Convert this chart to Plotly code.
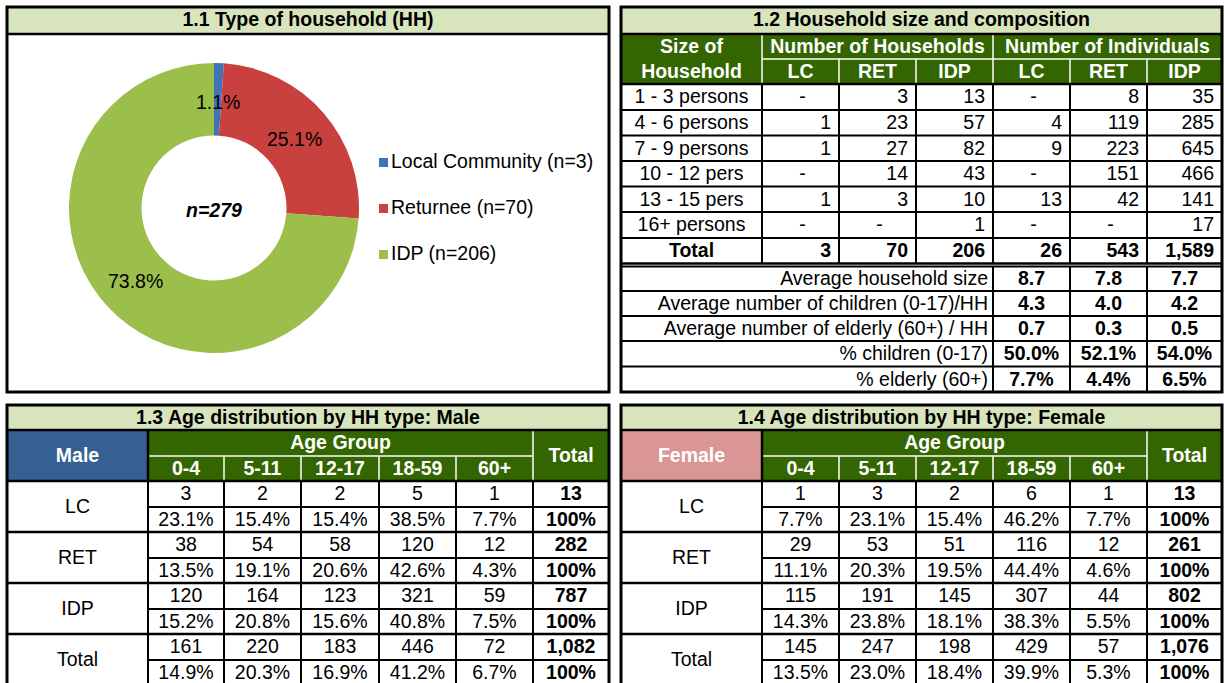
import math
import plotly.graph_objects as go

FONT = "Liberation Sans, Arial, Helvetica, sans-serif"
W, H = 1224, 683
FS = 19.5
DY = 1.5  # small vertical nudge for text baseline

# ---------------- data ----------------
hh_types = ["Local Community", "Returnee", "IDP"]
hh_counts = [3, 70, 206]
hh_colors = ["#3e74b8", "#c9413f", "#9cbf4c"]

size_groups = ["1 - 3 persons", "4 - 6 persons", "7 - 9 persons",
               "10 - 12 pers", "13 - 15 pers", "16+ persons"]
hh_lc = [0, 1, 1, 0, 1, 0]
hh_ret = [3, 23, 27, 14, 3, 0]
hh_idp = [13, 57, 82, 43, 10, 1]
ind_lc = [0, 4, 9, 0, 13, 0]
ind_ret = [8, 119, 223, 151, 42, 0]
ind_idp = [35, 285, 645, 466, 141, 17]

summary_labels = ["Average household size",
                  "Average number of children (0-17)/HH",
                  "Average number of elderly (60+) / HH",
                  "% children (0-17)",
                  "% elderly (60+)"]
avg_size = [8.7, 7.8, 7.7]
avg_children = [4.3, 4.0, 4.2]
avg_elderly = [0.7, 0.3, 0.5]
pct_children = [50.0, 52.1, 54.0]
pct_elderly = [7.7, 4.4, 6.5]

age_groups = ["0-4", "5-11", "12-17", "18-59", "60+"]
hh_codes = ["LC", "RET", "IDP"]
male_lc = [3, 2, 2, 5, 1]
male_ret = [38, 54, 58, 120, 12]
male_idp = [120, 164, 123, 321, 59]
female_lc = [1, 3, 2, 6, 1]
female_ret = [29, 53, 51, 116, 12]
female_idp = [115, 191, 145, 307, 44]

# ---------------- layout constants ----------------
TITLE_BG = "#d8e4bc"
HDR_GREEN = "#336600"
MALE_BG = "#376092"
FEMALE_BG = "#da9694"

shapes = []
texts = {}
annotations = []


def rect(x0, y0, x1, y1, fill, layer="below"):
    shapes.append(dict(type="rect", xref="x", yref="y", x0=x0, y0=y0, x1=x1, y1=y1,
                       fillcolor=fill, line=dict(width=0), layer=layer))


def frame(x0, y0, x1, y1, lw=3, color="black"):
    shapes.append(dict(type="rect", xref="x", yref="y", x0=x0, y0=y0, x1=x1, y1=y1,
                       fillcolor="rgba(0,0,0,0)", line=dict(color=color, width=lw), layer="above"))


def line(x0, y0, x1, y1, color="black", lw=2):
    shapes.append(dict(type="line", xref="x", yref="y", x0=x0, y0=y0, x1=x1, y1=y1,
                       line=dict(color=color, width=lw), layer="above"))


def txt(x, y, s, color="black", bold=False, italic=False, align="center", size=FS):
    if italic:
        s = f"<i>{s}</i>"
    if bold:
        s = f"<b>{s}</b>"
    key = (color, align, size)
    d = texts.setdefault(key, dict(x=[], y=[], t=[]))
    d["x"].append(x)
    d["y"].append(y + DY)
    d["t"].append(s)


def ann(x, y, s, bold=False, italic=False):
    if italic:
        s = f"<i>{s}</i>"
    if bold:
        s = f"<b>{s}</b>"
    annotations.append(dict(x=x, y=y + DY, xref="x", yref="y", text=s, showarrow=False,
                            xanchor="center", yanchor="middle",
                            font=dict(family=FONT, size=FS, color="black")))


def mid(a, b):
    return (a + b) / 2


def fmt_int(v):
    return f"{v:,}"


def pct(v, tot):
    return f"{100 * v / tot:.1f}%"


# ---------------- panel 1.1 ----------------
P1 = (7, 7, 609, 392)
TB = 34
rect(P1[0], P1[1], P1[2], P1[3], "white")
rect(P1[0], P1[1], P1[2], TB, TITLE_BG)
line(P1[0], TB, P1[2], TB, lw=2.5)
frame(*P1, lw=3)
txt(mid(P1[0], P1[2]), 20, "1.1 Type of household (HH)", bold=True)

pie_cx, pie_cy, pie_r, hole = 214, 208, 145, 0.5
fig = go.Figure()
fig.add_trace(go.Pie(
    labels=hh_types, values=hh_counts, hole=hole, sort=False,
    direction="clockwise", rotation=0,
    marker=dict(colors=hh_colors, line=dict(width=0)),
    textinfo="none",
    domain=dict(x=[(pie_cx - pie_r) / W, (pie_cx + pie_r) / W],
                y=[1 - (pie_cy + pie_r) / H, 1 - (pie_cy - pie_r) / H]),
    showlegend=False, hoverinfo="skip"))

# slice percentage labels placed at the middle of the ring (above the pie layer)
total_hh = sum(hh_counts)
cum = 0
r_lab = pie_r * (1 + hole) / 2 - 2
for n in hh_counts:
    frac_mid = (cum + n / 2) / total_hh
    ang = 2 * math.pi * frac_mid
    ann(pie_cx + r_lab * math.sin(ang), pie_cy - r_lab * math.cos(ang) - 1,
        f"{100 * n / total_hh:.1f}%")
    cum += n
ann(pie_cx, pie_cy, f"n={total_hh}", bold=True, italic=True)

leg_x, leg_y0, leg_dy = 379, 162, 46
for i, (name, n, c) in enumerate(zip(hh_types, hh_counts, hh_colors)):
    yy = leg_y0 + i * leg_dy
    rect(leg_x, yy - 4, leg_x + 9, yy + 5, c, layer="above")
    txt(leg_x + 12, yy, f"{name} (n={n})", align="left")

# ---------------- panel 1.2 ----------------
C2 = [621, 762, 839, 916, 993, 1070, 1147, 1222]
P2 = (C2[0], 7, C2[-1], 392)
H2 = [34, 59, 84]
R2 = [84, 110, 135.5, 161, 186.5, 212, 238, 263.5]
S2 = [266.5, 291, 316, 341, 366.5, 392]

rect(P2[0], P2[1], P2[2], P2[3], "white")
rect(P2[0], P2[1], P2[2], TB, TITLE_BG)
rect(P2[0], H2[0], P2[2], H2[2], HDR_GREEN)
txt(mid(P2[0], P2[2]), 20, "1.2 Household size and composition", bold=True)

# header separators (white)
line(C2[1], H2[0] + 1, C2[1], H2[2], color="white", lw=1.5)
line(C2[4], H2[0] + 1, C2[4], H2[2], color="white", lw=1.5)
line(C2[1], H2[1], C2[-1], H2[1], color="white", lw=1.5)
for c in C2[2:4] + C2[5:7]:
    line(c, H2[1], c, H2[2], color="white", lw=1.5)
line(P2[0], TB, P2[2], TB, lw=2.5)

txt(mid(C2[0], C2[1]), mid(H2[0], H2[1]), "Size of", color="white", bold=True)
txt(mid(C2[0], C2[1]), mid(H2[1], H2[2]), "Household", color="white", bold=True)
txt(mid(C2[1], C2[4]), mid(H2[0], H2[1]), "Number of Households", color="white", bold=True)
txt(mid(C2[4], C2[7]), mid(H2[0], H2[1]), "Number of Individuals", color="white", bold=True)
for j, code in enumerate(hh_codes + hh_codes):
    txt(mid(C2[j + 1], C2[j + 2]), mid(H2[1], H2[2]), code, color="white", bold=True)

cols2 = [hh_lc, hh_ret, hh_idp, ind_lc, ind_ret, ind_idp]
for i, g in enumerate(size_groups):
    yc = mid(R2[i], R2[i + 1])
    txt(mid(C2[0], C2[1]), yc, g)
    for j, col in enumerate(cols2):
        v = col[i]
        if v == 0:
            txt(mid(C2[j + 1], C2[j + 2]) + 2, yc, "-")
        else:
            txt(C2[j + 2] - 8, yc, fmt_int(v), align="right")
yc = mid(R2[-2], R2[-1])
txt(mid(C2[0], C2[1]), yc, "Total", bold=True)
for j, col in enumerate(cols2):
    txt(C2[j + 2] - 8, yc, fmt_int(sum(col)), bold=True, align="right")

for r in R2:
    line(C2[0], r, C2[-1], r, lw=2.5 if r in (R2[0], R2[-1]) else 2)
for c in C2[1:-1]:
    line(c, R2[0], c, R2[-1], lw=2)

summary_vals = [
    [f"{v:.1f}" for v in avg_size],
    [f"{v:.1f}" for v in avg_children],
    [f"{v:.1f}" for v in avg_elderly],
    [f"{v:.1f}%" for v in pct_children],
    [f"{v:.1f}%" for v in pct_elderly],
]
for i, lab in enumerate(summary_labels):
    yc = mid(S2[i], S2[i + 1])
    txt(C2[4] - 5, yc, lab, align="right")
    for j, v in enumerate(summary_vals[i]):
        txt(mid(C2[4 + j], C2[5 + j]), yc, v, bold=True)
for s in S2[:-1]:
    line(C2[0], s, C2[-1], s, lw=2)
for c in C2[4:-1]:
    line(c, S2[0], c, S2[-1], lw=2)
frame(*P2, lw=3)


# ---------------- panels 1.3 / 1.4 ----------------
def age_panel(cols, title, corner_label, corner_bg, lc, ret, idp):
    top, bottom = 405, 690
    tb = 430
    h_mid, h_bot = 456, 481
    rows = [481, 507, 532, 558, 583, 609, 634, 660, 686]
    x0, x1 = cols[0], cols[-1]
    rect(x0, top, x1, bottom, "white")
    rect(x0, top, x1, tb, TITLE_BG)
    rect(x0, tb, cols[1], h_bot, corner_bg)
    rect(cols[1], tb, x1, h_bot, HDR_GREEN)
    txt(mid(x0, x1), mid(top, tb), title, bold=True)

    line(cols[1], h_mid, cols[6], h_mid, color="white", lw=1.5)
    for c in cols[2:6]:
        line(c, h_mid, c, h_bot, color="white", lw=1.5)
    line(cols[6], tb + 1, cols[6], h_bot, color="white", lw=1.5)
    line(cols[1], tb, cols[1], h_bot, lw=2.5)
    line(x0, tb, x1, tb, lw=2.5)

    txt(mid(x0, cols[1]), mid(tb, h_bot), corner_label, color="white", bold=True)
    txt(mid(cols[1], cols[6]), mid(tb, h_mid), "Age Group", color="white", bold=True)
    txt(mid(cols[6], cols[7]), mid(tb, h_bot), "Total", color="white", bold=True)
    for j, a in enumerate(age_groups):
        txt(mid(cols[j + 1], cols[j + 2]), mid(h_mid, h_bot), a, color="white", bold=True)

    tot = [a + b + c for a, b, c in zip(lc, ret, idp)]
    groups = [("LC", lc), ("RET", ret), ("IDP", idp), ("Total", tot)]
    for g, (name, vals) in enumerate(groups):
        ya, yb, yc2 = rows[2 * g], rows[2 * g + 1], rows[2 * g + 2]
        s = sum(vals)
        txt(mid(x0, cols[1]), mid(ya, yc2), name)
        for j, v in enumerate(vals):
            txt(mid(cols[j + 1], cols[j + 2]), mid(ya, yb), fmt_int(v))
            txt(mid(cols[j + 1], cols[j + 2]), mid(yb, yc2), pct(v, s))
        txt(mid(cols[6], cols[7]), mid(ya, yb), fmt_int(s), bold=True)
        txt(mid(cols[6], cols[7]), mid(yb, yc2), "100%", bold=True)
        line(x0, ya, x1, ya, lw=2.5)
        line(cols[1], yb, x1, yb, lw=2)
    for c in cols[1:-1]:
        line(c, rows[0], c, rows[-1], lw=2)
    frame(x0, top, x1, bottom, lw=3)


C3 = [7, 148, 224, 301, 379, 456, 533, 609]
C4 = [621, 762, 839, 916, 993, 1070, 1147, 1222]
age_panel(C3, "1.3 Age distribution by HH type: Male", "Male", MALE_BG,
          male_lc, male_ret, male_idp)
age_panel(C4, "1.4 Age distribution by HH type: Female", "Female", FEMALE_BG,
          female_lc, female_ret, female_idp)

# ---------------- text traces ----------------
posmap = {"center": "middle center", "right": "middle left", "left": "middle right"}
for (color, align, size), d in texts.items():
    fig.add_trace(go.Scatter(
        x=d["x"], y=d["y"], text=d["t"], mode="text",
        textposition=posmap[align],
        textfont=dict(family=FONT, size=size, color=color),
        hoverinfo="skip", showlegend=False, cliponaxis=True))

fig.update_layout(
    width=W, height=H, margin=dict(l=0, r=0, t=0, b=0),
    paper_bgcolor="white", plot_bgcolor="white",
    shapes=shapes, annotations=annotations, showlegend=False,
    font=dict(family=FONT, size=FS, color="black"),
    xaxis=dict(range=[0, W], visible=False, fixedrange=True),
    yaxis=dict(range=[H, 0], visible=False, fixedrange=True),
)
fig.write_html(
    "out.html",
    config={"displayModeBar": False},
    post_script="document.body.style.margin='0px';document.body.style.padding='0px';"
                "document.body.style.overflow='hidden';",
)
